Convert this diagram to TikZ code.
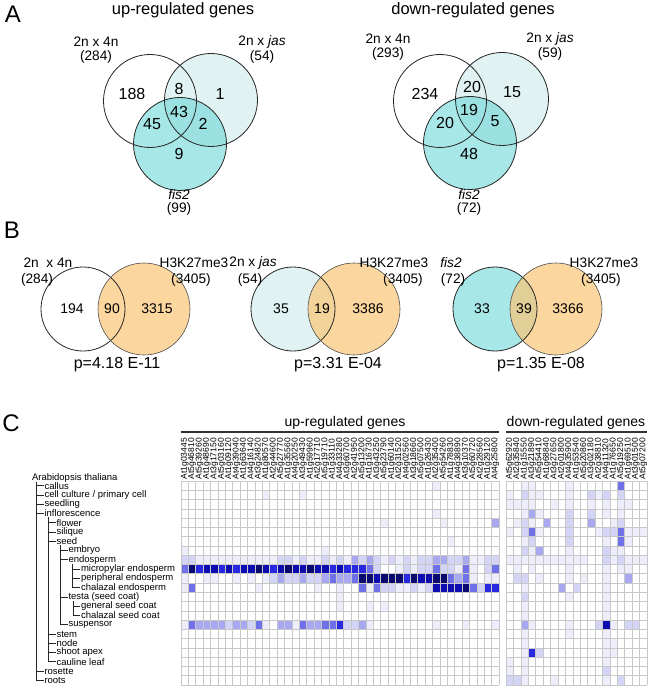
\documentclass[tikz,border=0pt]{standalone}
\usepackage{fontspec}
\setmainfont{Liberation Sans}
\definecolor{jasc}{RGB}{224,242,242}
\definecolor{fisc}{RGB}{110,215,215}
\definecolor{fisb}{RGB}{168,231,231}
\definecolor{h3c}{RGB}{250,198,118}
\definecolor{hma}{RGB}{237,237,251}
\definecolor{hmb}{RGB}{212,212,247}
\definecolor{hmc}{RGB}{168,168,240}
\definecolor{hmd}{RGB}{112,112,232}
\definecolor{hme}{RGB}{40,40,224}
\definecolor{hmf}{RGB}{12,12,176}
\definecolor{hmg}{RGB}{10,10,110}
\definecolor{gridc}{RGB}{200,200,200}
\tikzset{
  vo/.style={draw=black!85, line width=0.8pt},
  vob/.style={draw=black!70, line width=0.6pt},
  ttl/.style={font=\fontsize{16.5}{18}\selectfont, inner sep=0pt},
  lbl/.style={font=\fontsize{13.7}{15}\selectfont, inner sep=0pt},
  num/.style={font=\fontsize{16}{18}\selectfont, inner sep=0pt},
  bnum/.style={font=\fontsize{14}{16}\selectfont, inner sep=0pt},
  pv/.style={font=\fontsize{16}{18}\selectfont, inner sep=0pt},
  panel/.style={font=\fontsize{24}{26}\selectfont, inner sep=0pt},
  ctl/.style={font=\fontsize{14}{16}\selectfont, inner sep=0pt},
  gene/.style={font=\fontsize{8.5}{9}\selectfont, inner sep=0pt, rotate=90, anchor=west},
  tree/.style={font=\fontsize{9.5}{10}\selectfont, inner sep=0.8pt, anchor=west},
  tl/.style={draw=black!85, line width=0.7pt},
  hl0/.style={fill=white}, hl1/.style={fill=hma}, hl2/.style={fill=hmb}, hl3/.style={fill=hmc},
  hl4/.style={fill=hmd}, hl5/.style={fill=hme}, hl6/.style={fill=hmf}, hl7/.style={fill=hmg},
}
\begin{document}
\begin{tikzpicture}[x=1pt,y=-1pt]
\useasboundingbox (0,0) rectangle (661,692);
\fill[white] (0,0) rectangle (661,692);

% ---------------- Panel A ----------------
\node[panel] (A) at (13,14) {A};
\node[ttl] (tup) at (183,10) {up-regulated genes};
\node[ttl] (tdn) at (473,10) {down-regulated genes};

\coordinate (u1) at (150,101);
\coordinate (u2) at (211,100);
\coordinate (u3) at (180,144);
\fill[jasc] (u2) circle[radius=46.5pt];
\fill[fisc, opacity=0.6] (u3) circle[radius=46.5pt];
\draw[vo] (u1) circle[radius=46.5pt];
\draw[vo] (u2) circle[radius=46.5pt];
\draw[vo] (u3) circle[radius=46.5pt];
\node[lbl] (ul1) at (96,42) {2n x 4n};
\node[lbl] (ul1n) at (96,57) {(284)};
\node[lbl] (ul2) at (262,42) {2n x \textit{jas}};
\node[lbl] (ul2n) at (262,57) {(54)};
\node[lbl] (ul3) at (179,195) {\textit{fis2}};
\node[lbl] (ul3n) at (179,209) {(99)};
\node[num] (n188) at (132,94) {188};
\node[num] (n8) at (179,89) {8};
\node[num] (n1) at (220,94) {1};
\node[num] (n43) at (179,112) {43};
\node[num] (n45) at (152,124) {45};
\node[num] (n2) at (203,124) {2};
\node[num] (n9) at (179,154) {9};

\coordinate (d1) at (440,101);
\coordinate (d2) at (502,99);
\coordinate (d3) at (470,143);
\fill[jasc] (d2) circle[radius=46.5pt];
\fill[fisc, opacity=0.6] (d3) circle[radius=46.5pt];
\draw[vo] (d1) circle[radius=46.5pt];
\draw[vo] (d2) circle[radius=46.5pt];
\draw[vo] (d3) circle[radius=46.5pt];
\node[lbl] (dl1) at (388,39) {2n x 4n};
\node[lbl] (dl1n) at (388,54) {(293)};
\node[lbl] (dl2) at (550,39) {2n x \textit{jas}};
\node[lbl] (dl2n) at (550,54) {(59)};
\node[lbl] (dl3) at (469,195) {\textit{fis2}};
\node[lbl] (dl3n) at (469,209) {(72)};
\node[num] (m234) at (425,94) {234};
\node[num] (m20a) at (472,87) {20};
\node[num] (m15) at (512,92) {15};
\node[num] (m19) at (469,110) {19};
\node[num] (m20b) at (445,123) {20};
\node[num] (m5) at (495,121) {5};
\node[num] (m48) at (469,154) {48};

% ---------------- Panel B ----------------
\node[panel] (B) at (12,230) {B};
% left pair
\coordinate (b1) at (83,309);
\coordinate (b2) at (144,309);
\fill[white] (b1) circle[radius=42pt];
\fill[h3c, opacity=0.7] (b2) circle[radius=46pt];
\draw[vo] (b1) circle[radius=42pt];
\draw[vob] (b2) circle[radius=46pt];
\node[lbl] (bl1) at (48,263) {2n\ \ x 4n};
\node[lbl] (bl1n) at (37,280) {(284)};
\node[lbl] (bh1) at (194,263) {H3K27me3};
\node[lbl] (bh1n) at (191,280) {(3405)};
\node[bnum] (b194) at (72,309) {194};
\node[bnum] (b90) at (112,309) {90};
\node[bnum] (b3315) at (157,309) {3315};
\node[pv] (p1) at (117,365) {p=4.18 E-11};
% middle pair
\coordinate (b3) at (293,309);
\coordinate (b4) at (354,309);
\fill[jasc] (b3) circle[radius=42pt];
\fill[h3c, opacity=0.7] (b4) circle[radius=46pt];
\draw[vo] (b3) circle[radius=42pt];
\draw[vob] (b4) circle[radius=46pt];
\node[lbl] (bl2) at (253,263) {2n x \textit{jas}};
\node[lbl] (bl2n) at (250,280) {(54)};
\node[lbl] (bh2) at (394,263) {H3K27me3};
\node[lbl] (bh2n) at (403,280) {(3405)};
\node[bnum] (b35) at (281,309) {35};
\node[bnum] (b19) at (322,309) {19};
\node[bnum] (b3386) at (368,309) {3386};
\node[pv] (p2) at (338,365) {p=3.31 E-04};
% right pair
\coordinate (b5) at (495,309);
\coordinate (b6) at (556,309);
\fill[fisb] (b5) circle[radius=42pt];
\fill[h3c, opacity=0.7] (b6) circle[radius=46pt];
\draw[vo] (b5) circle[radius=42pt];
\draw[vob] (b6) circle[radius=46pt];
\node[lbl] (bl3) at (451,263) {\textit{fis2}};
\node[lbl] (bl3n) at (453,280) {(72)};
\node[lbl] (bh3) at (604,263) {H3K27me3};
\node[lbl] (bh3n) at (601,280) {(3405)};
\node[bnum] (b33) at (482,309) {33};
\node[bnum] (b39) at (524,309) {39};
\node[bnum] (b3366) at (568,309) {3366};
\node[pv] (p3) at (541,365) {p=1.35 E-08};

% ---------------- Panel C ----------------
\node[panel] (C) at (11,423) {C};
\node[ctl] (cup) at (345,423) {up-regulated genes};
\node[ctl] (cdn) at (576,423) {down-regulated genes};
\draw[black!80, line width=1.3pt] (181,432) -- (499,432);
\draw[black!80, line width=1.3pt] (506,432) -- (647,432);

\def\cw{7.395}
\def\dw{7.421}
\def\rh{9.273}
% up-regulated heat cells
\foreach \r/\c/\l in {0/34/1,1/11/1,1/16/1,3/34/1,4/27/1,4/35/1,4/42/3,6/36/1,7/0/1,7/19/1,
8/0/2,8/1/2,8/2/1,8/3/1,8/4/1,8/5/1,8/6/1,8/7/1,8/8/1,8/9/1,8/10/1,8/11/1,8/12/1,8/13/2,8/14/2,8/15/1,8/16/2,8/17/1,8/18/1,8/19/2,8/20/1,8/21/2,8/22/1,8/23/3,8/24/2,8/25/3,8/26/2,8/27/1,8/28/2,8/29/1,8/30/2,8/31/1,8/32/2,8/33/2,8/34/3,8/35/3,8/36/2,8/37/2,8/38/3,8/39/1,8/40/1,8/41/2,8/42/2,
9/0/4,9/1/7,9/2/5,9/3/6,9/4/6,9/5/5,9/6/6,9/7/5,9/8/6,9/9/6,9/10/7,9/11/6,9/12/5,9/13/6,9/14/7,9/15/6,9/16/6,9/17/7,9/18/6,9/19/6,9/20/5,9/21/6,9/22/5,9/23/5,9/24/5,9/25/4,9/26/2,9/29/1,9/30/2,9/31/1,9/32/2,9/33/2,9/34/4,9/35/2,9/36/2,9/37/1,9/38/4,9/39/1,9/41/2,9/42/4,
10/0/1,10/3/1,10/4/1,10/7/1,10/9/1,10/11/1,10/12/2,10/13/3,10/14/2,10/15/2,10/16/3,10/17/2,10/18/2,10/19/3,10/20/4,10/21/3,10/22/3,10/23/4,10/24/7,10/25/7,10/26/6,10/27/7,10/28/7,10/29/7,10/30/5,10/31/7,10/32/6,10/33/6,10/34/7,10/35/7,10/36/4,10/37/3,10/38/4,10/39/1,10/41/1,10/42/1,
11/0/1,11/1/4,11/10/1,11/18/1,11/21/1,11/24/4,11/25/1,11/26/4,11/27/2,11/28/2,11/29/1,11/30/1,11/31/2,11/32/1,11/33/2,11/34/6,11/35/6,11/36/6,11/37/6,11/38/7,11/39/4,11/40/2,11/41/5,11/42/5,
12/21/1,13/21/1,13/25/1,13/27/1,
15/0/1,15/1/4,15/2/3,15/3/3,15/4/3,15/5/3,15/6/2,15/7/3,15/8/3,15/9/2,15/10/4,15/11/1,15/13/3,15/14/3,15/15/1,15/16/4,15/17/3,15/18/3,15/19/4,15/20/4,15/21/5,15/22/2,15/23/2,15/24/3,15/25/1,15/34/1,15/38/1,15/42/1}
  {\path[hl\l] ({181+\c*\cw},{481+\r*\rh}) rectangle ++(\cw,\rh);}
% down-regulated heat cells
\foreach \r/\c/\l in {0/2/1,0/3/1,0/8/1,0/15/4,
1/0/1,1/2/2,1/3/1,1/4/1,1/8/1,1/11/2,1/12/1,1/13/2,1/15/2,
2/0/1,2/1/1,2/2/1,2/3/1,2/6/1,2/8/1,2/11/1,2/13/1,2/15/1,2/16/1,
3/2/1,3/3/3,3/4/1,3/8/2,3/11/2,3/13/1,3/15/1,
4/1/1,4/2/2,4/3/1,4/5/3,4/8/2,4/11/3,4/14/1,4/15/2,
5/0/1,5/2/2,5/3/4,5/4/1,5/8/2,5/12/1,5/13/2,5/14/2,5/15/4,5/16/1,5/17/1,5/18/1,
6/2/1,6/3/2,6/8/2,6/13/1,6/15/4,6/16/1,
7/2/2,7/3/1,7/4/3,7/8/1,7/13/2,7/14/1,7/15/1,
8/0/1,8/1/1,8/2/1,8/3/1,8/4/1,8/5/1,8/6/1,8/7/1,8/8/1,8/9/1,8/10/1,8/13/2,8/14/1,8/15/2,8/16/1,8/17/1,8/18/1,
9/1/1,9/3/1,9/8/1,9/13/1,9/15/1,9/16/1,
10/1/2,10/2/2,10/4/1,10/8/1,10/10/1,10/13/1,10/16/3,
11/2/1,11/7/3,11/9/2,11/13/1,
12/2/2,12/8/1,12/13/1,13/2/1,13/13/1,14/2/1,14/13/1,
15/2/3,15/3/1,15/8/1,15/12/2,15/13/6,15/14/1,15/16/2,15/17/2,
16/2/1,16/8/1,16/13/1,17/2/1,17/13/1,17/14/1,
18/2/1,18/3/5,18/4/2,18/13/1,18/14/1,
19/0/1,19/2/1,19/13/1,20/0/1,20/2/1,20/13/2,
21/0/2,21/1/2,21/2/1,21/6/1,21/13/1,21/15/2}
  {\path[hl\l] ({506+\c*\dw},{481+\r*\rh}) rectangle ++(\dw,\rh);}
% grids
\foreach \i in {0,...,43} \draw[gridc, line width=0.6pt] ({181+\i*\cw},481) -- ({181+\i*\cw},{481+22*\rh});
\foreach \j in {0,...,22} \draw[gridc, line width=0.6pt] (181,{481+\j*\rh}) -- (499,{481+\j*\rh});
\foreach \i in {0,...,19} \draw[gridc, line width=0.6pt] ({506+\i*\dw},481) -- ({506+\i*\dw},{481+22*\rh});
\foreach \j in {0,...,22} \draw[gridc, line width=0.6pt] (506,{481+\j*\rh}) -- (647,{481+\j*\rh});

% gene labels
\foreach \g [count=\i from 0] in {At1g03445,At5g46810,At5g39260,At1g48690,At3g17150,At5g03160,At1g09120,At4g39040,At1g63640,At4g16140,At3g24820,At1g80570,At2g44600,At5g27770,At1g35560,At4g20250,At3g49430,At1g59960,At2g17710,At5g19710,At1g33110,At4g33280,At3g60700,At2g41950,At5g13200,At1g16730,At3g43250,At5g23790,At1g60140,At2g31520,At4g02560,At3g18660,At5g07500,At1g26430,At2g35400,At5g54260,At1g78830,At4g38890,At3g10370,At5g60720,At2g28560,At1g29120,At4g25800}
  \node[gene] (gu\i) at ({181+(\i+0.5)*\cw},479.5) {\g};
\foreach \g [count=\i from 0] in {At5g62920,At2g35840,At1g15550,At3g21890,At5g54410,At1g68840,At3g27650,At2g01800,At4g35900,At1g53540,At5g20860,At3g02180,At2g38810,At4g11320,At1g76650,At5g19250,At1g69510,At3g01500,At5g07200}
  \node[gene] (gd\i) at ({506+(\i+0.5)*\dw},479.5) {\g};

% ontology tree
\node[tree] (ath) at (31,478) {Arabidopsis thaliana};
\foreach \i/\t in {0/callus,1/{cell culture / primary cell},2/seedling,3/inflorescence,20/rosette,21/roots}
  {\node[tree] (t\i) at (43.5,{485.6+\i*\rh}) {\t};
   \draw[tl] (36,{485.6+\i*\rh}) -- (t\i.west);}
\foreach \i/\t in {4/flower,5/silique,6/seed,16/stem,17/node,18/shoot apex,19/cauline leaf}
  {\node[tree] (t\i) at (55.5,{485.6+\i*\rh}) {\t};
   \draw[tl] (48,{485.6+\i*\rh}) -- (t\i.west);}
\foreach \i/\t in {7/embryo,8/endosperm,12/testa (seed coat),15/suspensor}
  {\node[tree] (t\i) at (67.5,{485.6+\i*\rh}) {\t};
   \draw[tl] (60,{485.6+\i*\rh}) -- (t\i.west);}
\foreach \i/\t in {9/micropylar endosperm,10/peripheral endosperm,11/chalazal endosperm}
  {\node[tree] (t\i) at (80,{485.6+\i*\rh}) {\t};
   \draw[tl] (72,{485.6+\i*\rh}) -- (t\i.west);}
\foreach \i/\t in {13/general seed coat,14/chalazal seed coat}
  {\node[tree] (t\i) at (80,{485.6+\i*\rh}) {\t};
   \draw[tl] (73,{485.6+\i*\rh}) -- (t\i.west);}
\draw[tl] (36,482) -- (36,{485.6+21*\rh});
\draw[tl] (48,{485.6+3*\rh+4}) -- (48,{485.6+19*\rh});
\draw[tl] (60,{485.6+6*\rh+4}) -- (60,{485.6+15*\rh});
\draw[tl] (72,{485.6+8*\rh+4}) -- (72,{485.6+11*\rh});
\draw[tl] (73,{485.6+12*\rh+4}) -- (73,{485.6+14*\rh});
\end{tikzpicture}
\end{document}
